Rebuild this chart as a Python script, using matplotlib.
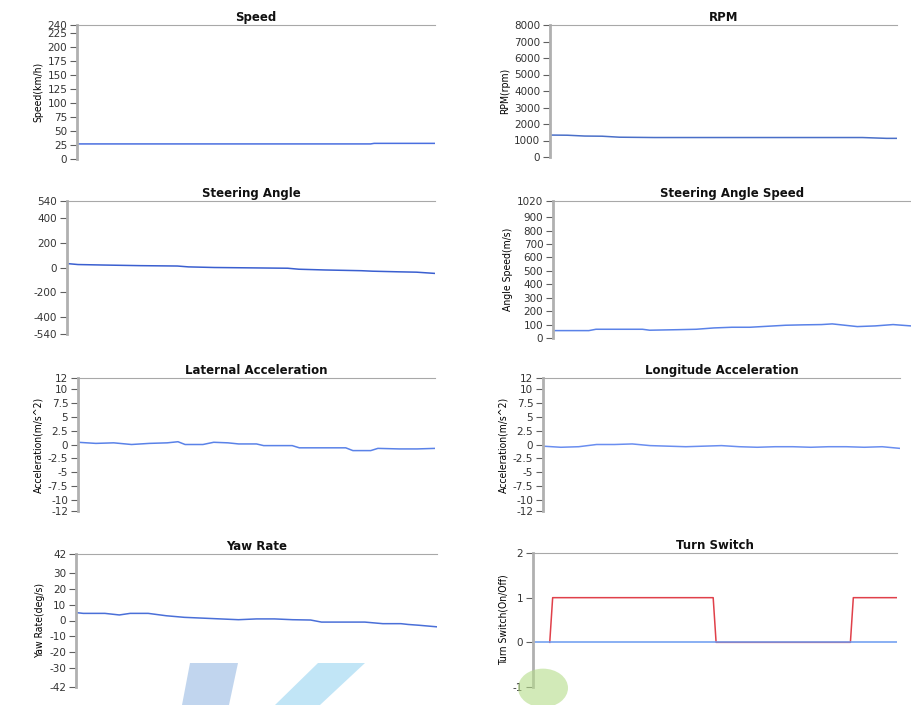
import matplotlib
matplotlib.use("Agg")
import matplotlib.pyplot as plt
from matplotlib.patches import Polygon, Circle
import numpy as np

W, H = 911, 705

# ---------------- data (time in % of record) ----------------
t_speed = [0, 20, 40, 60, 82, 83, 100]
speed = [27, 27, 27, 27, 27, 28, 28]

t_rpm = [0, 5, 10, 15, 20, 30, 50, 70, 90, 97, 100]
rpm = [1330, 1320, 1270, 1260, 1200, 1180, 1180, 1180, 1180, 1130, 1130]

t_steer = [0, 3, 10, 20, 30, 33, 40, 50, 60, 63, 70, 80, 83, 90, 95, 100]
steer = [32, 24, 20, 15, 12, 5, 0, -3, -6, -14, -20, -26, -30, -35, -38, -48]

t_steer_spd = [0, 10, 12, 25, 27, 35, 40, 45, 50, 55, 65, 70, 75, 78, 85, 90, 95, 100]
steer_spd = [55, 55, 65, 65, 58, 62, 65, 75, 80, 80, 95, 98, 100, 105, 85, 90, 100, 90]

t_lat = [0, 5, 10, 15, 20, 25, 28, 30, 35, 38, 42, 45, 50, 52, 58, 60, 62, 70,
         75, 77, 82, 84, 90, 95, 100]
lat = [0.4, 0.2, 0.3, 0.0, 0.2, 0.3, 0.5, 0.0, 0.0, 0.4, 0.3, 0.1, 0.1, -0.2,
       -0.2, -0.2, -0.6, -0.6, -0.6, -1.1, -1.1, -0.7, -0.8, -0.8, -0.7]

t_lon = [0, 5, 10, 15, 20, 25, 30, 35, 40, 45, 50, 55, 60, 65, 70, 75, 80, 85, 90, 95, 100]
lon = [-0.3, -0.5, -0.4, 0.0, 0.0, 0.1, -0.2, -0.3, -0.4, -0.3, -0.2, -0.4, -0.5,
       -0.4, -0.4, -0.5, -0.4, -0.4, -0.5, -0.4, -0.7]

t_yaw = [0, 2, 8, 12, 15, 20, 25, 30, 35, 40, 45, 50, 55, 60, 65, 68, 75, 80, 85, 90, 92, 95, 100]
yaw = [5, 4.5, 4.5, 3.5, 4.5, 4.5, 3, 2, 1.5, 1, 0.5, 1, 1, 0.5, 0.3, -1, -1, -1, -2, -2, -2.5, -3, -4]

t_turn = [4.6, 5.4, 49.5, 50.3, 87.2, 88.0, 100]
turn = [0, 1, 1, 0, 0, 1, 1]
t_turn_off = [0, 100]
turn_off = [0, 0]

# ---------------- panels ----------------
panels = [
    # title, ylabel, ticks, box (l, t, r, b) in px
    ("Speed", "Speed(km/h)", [0, 25, 50, 75, 100, 125, 150, 175, 200, 225, 240], (77, 25, 435, 159)),
    ("RPM", "RPM(rpm)", [0, 1000, 2000, 3000, 4000, 5000, 6000, 7000, 8000], (550, 25, 897, 157)),
    ("Steering Angle", "", [-540, -400, -200, 0, 200, 400, 540], (67, 201, 435, 334)),
    ("Steering Angle Speed", "Angle Speed(m/s)", [0, 100, 200, 300, 400, 500, 600, 700, 800, 900, 1020], (553, 201, 911, 338)),
    ("Laternal Acceleration", "Acceleration(m/s^2)", [-12, -10, -7.5, -5, -2.5, 0, 2.5, 5, 7.5, 10, 12], (78, 378, 435, 511)),
    ("Longitude Acceleration", "Acceleration(m/s^2)", [-12, -10, -7.5, -5, -2.5, 0, 2.5, 5, 7.5, 10, 12], (543, 378, 900, 511)),
    ("Yaw Rate", "Yaw Rate(deg/s)", [-42, -30, -20, -10, 0, 10, 20, 30, 42], (76, 554, 437, 687)),
    ("Turn Switch", "Turn Switch(On/Off)", [-1, 0, 1, 2], (533, 553, 897, 687)),
]
series = [
    [(t_speed, speed, "#4a6fe0")],
    [(t_rpm, rpm, "#4a6fc8")],
    [(t_steer, steer, "#3a5fd0")],
    [(t_steer_spd, steer_spd, "#5a82e8")],
    [(t_lat, lat, "#5a82e8")],
    [(t_lon, lon, "#6a8ef0")],
    [(t_yaw, yaw, "#4a6fd8")],
    [(t_turn, turn, "#e0404a"), (t_turn_off, turn_off, "#6a9af0")],
]

fig = plt.figure(figsize=(W / 100, H / 100), dpi=100)
fig.patch.set_facecolor("white")

for (title, ylab, ticks, box), ser in zip(panels, series):
    l, t, r, b = box
    ax = fig.add_axes([l / W, 1 - b / H, (r - l) / W, (b - t) / H])
    for xs, ys, c in ser:
        ax.plot(xs, ys, color=c, lw=1.1)
    ax.set_xlim(0, 100)
    ax.set_ylim(ticks[0], ticks[-1])
    ax.set_yticks(ticks)
    ax.set_yticklabels([("%g" % v) for v in ticks])
    ax.set_xticks([])
    ax.spines["right"].set_visible(False)
    ax.spines["bottom"].set_visible(False)
    ax.spines["top"].set_color("#a8a8a8")
    ax.spines["top"].set_linewidth(0.8)
    ax.spines["left"].set_color("#b0b0b0")
    ax.spines["left"].set_linewidth(2)
    ax.tick_params(axis="y", length=5, width=0.8, color="#606060",
                   labelsize=7.5, labelcolor="#333333", pad=2)
    ax.set_title(title, fontsize=8.5, fontweight="bold", pad=3, color="#111111")
    if ylab:
        ax.set_ylabel(ylab, fontsize=7.5, family=["Liberation Sans Narrow", "DejaVu Sans"],
                      fontstretch="condensed", labelpad=3)

# faint watermark shapes along the bottom
wm = [
    Polygon([(190, 663), (238, 663), (229, 705), (182, 705)], closed=True),
    Polygon([(318, 663), (365, 663), (320, 705), (275, 705)], closed=True),
]
for p, c in zip(wm, ["#8fb4e0", "#8fd0f0"]):
    xy = p.get_xy()
    p.set_xy(np.column_stack([xy[:, 0] / W, 1 - xy[:, 1] / H]))
    p.set_transform(fig.transFigure)
    p.set_facecolor(c)
    p.set_alpha(0.55)
    p.set_edgecolor("none")
    fig.patches.append(p)
circ = Circle((543 / W, 1 - 688 / H), 25 / W, transform=fig.transFigure,
              facecolor="#b5dc8a", alpha=0.6, edgecolor="none")
fig.patches.append(circ)

fig.savefig("out.png", dpi=100)
